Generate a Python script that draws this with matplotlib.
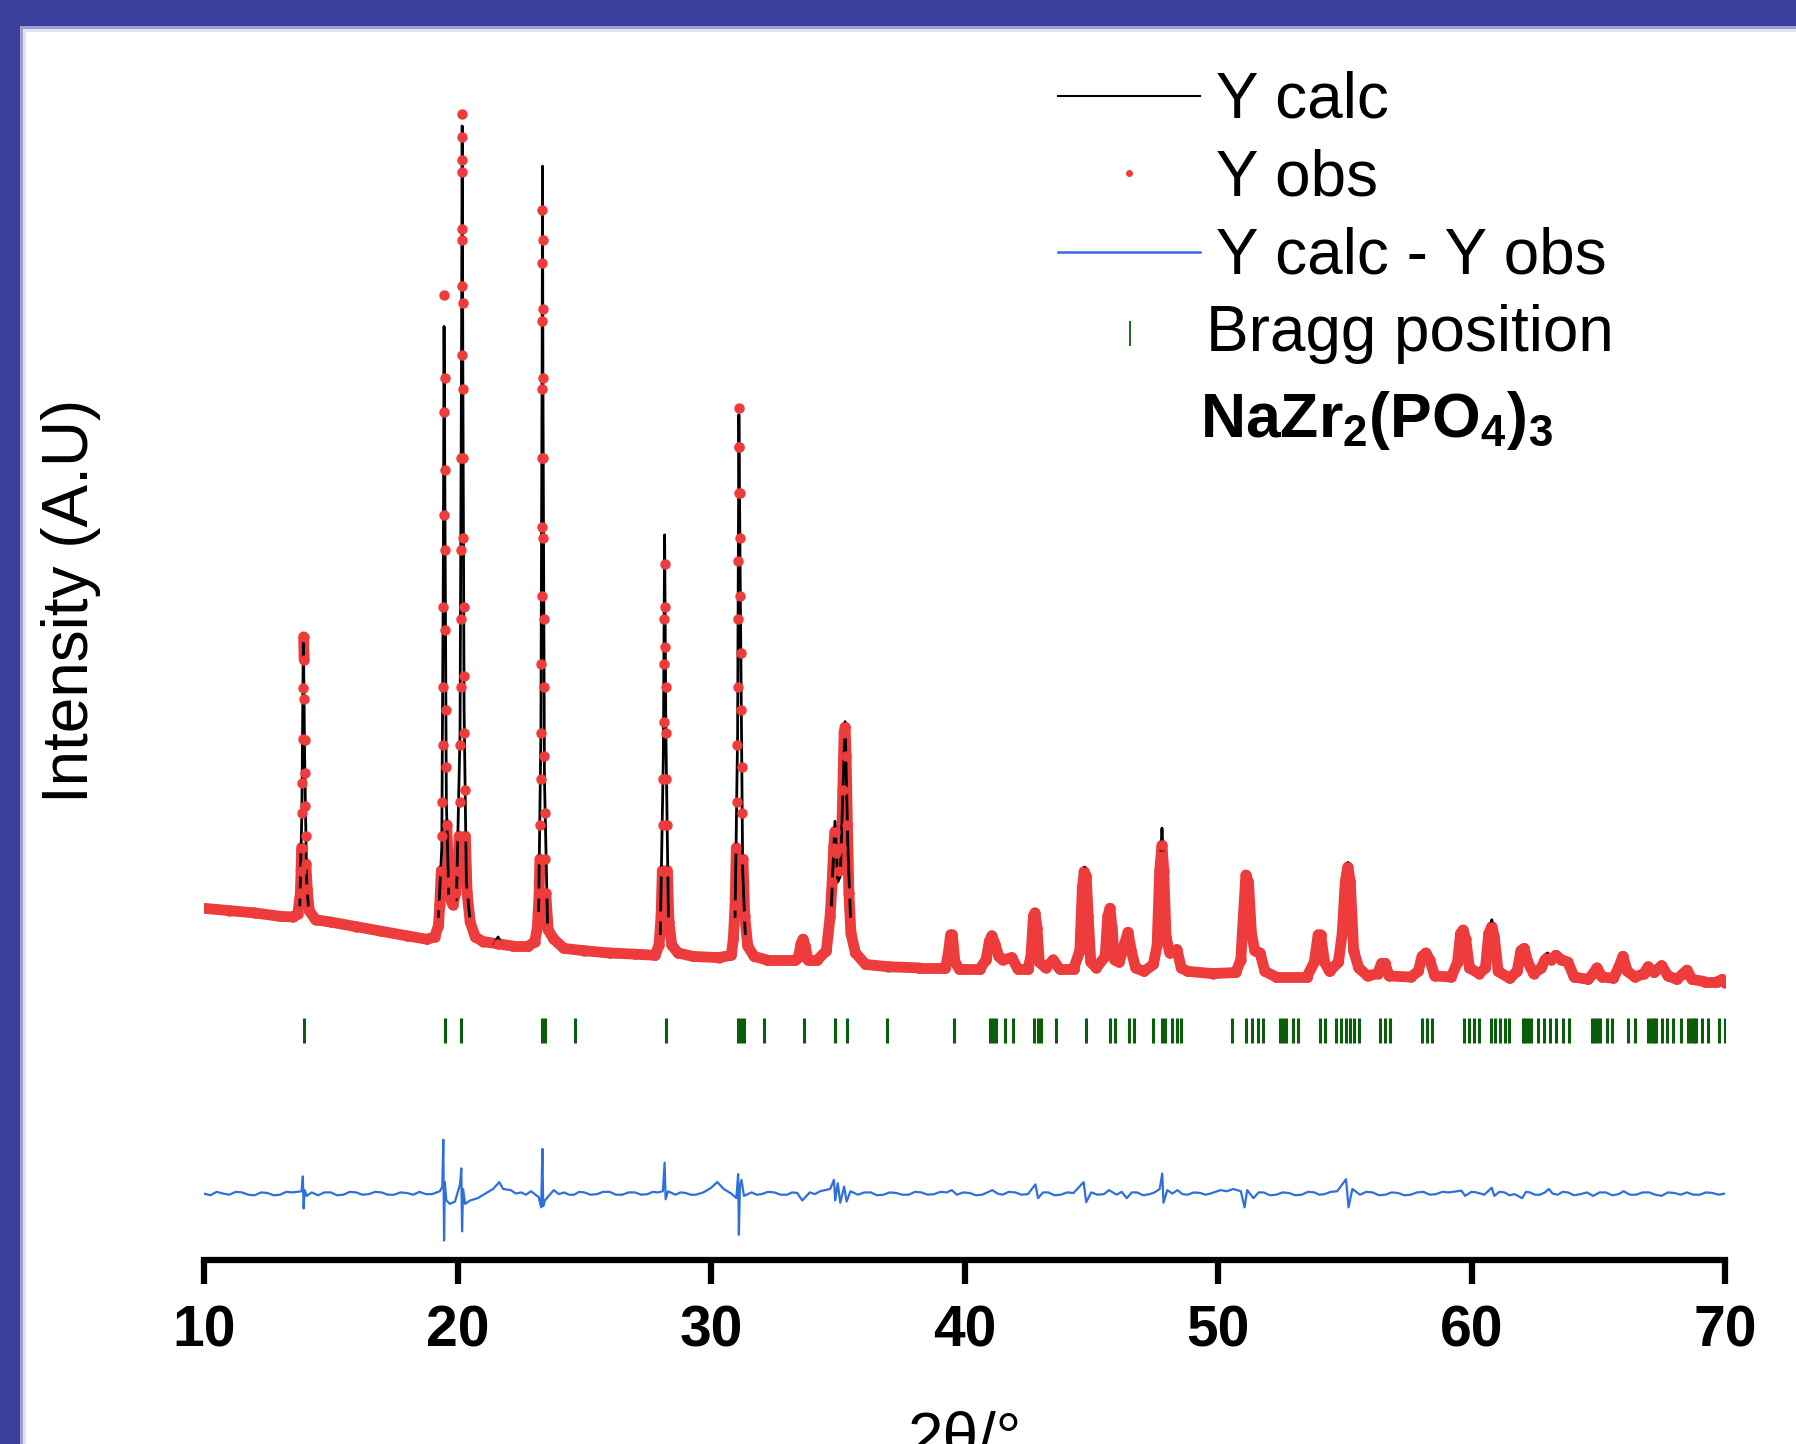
import numpy as np
import matplotlib
matplotlib.use('Agg')
import matplotlib.pyplot as plt
from matplotlib.collections import LineCollection
from matplotlib.lines import Line2D
from matplotlib.patches import Rectangle

plt.rcParams['font.family'] = ['Liberation Sans', 'DejaVu Sans']
plt.rcParams['mathtext.fontset'] = 'custom'
plt.rcParams['mathtext.rm'] = 'Liberation Sans'
plt.rcParams['mathtext.bf'] = 'Liberation Sans:bold'

# ------------------------------
# Data (2theta in degrees, intensity in counts)
# ------------------------------
obs_pts = [
    (10.0, 970), (11.0, 950), (12.0, 930), (13.0, 900), (13.5, 895),
    # 13.9
    (13.7, 920), (13.80, 1100), (13.83, 1300), (13.85, 1500), (13.865, 1800), (13.88, 2060),
    (13.895, 2450), (13.91, 2890), (13.93, 3340), (13.95, 3140), (13.96, 2800), (13.97, 2440),
    (13.98, 2150), (13.99, 1860), (14.005, 1600), (14.02, 1360), (14.07, 1140), (14.15, 950), (14.4, 870),
    (15.0, 850), (16.0, 810), (17.0, 770), (18.0, 730), (18.8, 700), (19.1, 720), (19.25, 820),
    # 19.5
    (19.30, 1000), (19.36, 1300), (19.38, 1600), (19.40, 1900), (19.415, 2400), (19.43, 2900),
    (19.44, 3600), (19.45, 4400), (19.46, 5300), (19.47, 6320), (19.49, 5600), (19.50, 4800),
    (19.51, 4100), (19.525, 3400), (19.54, 2700), (19.56, 2200), (19.58, 1700), (19.64, 1200),
    (19.72, 1050), (19.82, 1000),
    # 20.2
    (19.92, 1100), (20.02, 1300), (20.06, 1600), (20.08, 1900), (20.10, 2400), (20.12, 2900),
    (20.13, 3500), (20.14, 4100), (20.15, 4900), (20.16, 5800), (20.165, 6400), (20.17, 6900),
    (20.175, 7500), (20.18, 7900), (20.185, 7700), (20.19, 7400), (20.195, 6800), (20.20, 6250),
    (20.21, 5500), (20.22, 4900), (20.23, 4200), (20.24, 3600), (20.255, 3000), (20.27, 2500),
    (20.29, 2000), (20.31, 1600), (20.38, 1100), (20.50, 850), (20.70, 720),
    (21.0, 680), (21.6, 660), (22.2, 640), (22.8, 640), (23.05, 680),
    # 23.4
    (23.15, 800), (23.22, 1100), (23.25, 1400), (23.27, 1700), (23.285, 2100), (23.30, 2500),
    (23.31, 3100), (23.32, 3700), (23.328, 4300), (23.335, 4900), (23.34, 5500), (23.345, 6100),
    (23.348, 6600), (23.35, 7070), (23.36, 6800), (23.368, 6200), (23.375, 5600), (23.382, 4900),
    (23.39, 4200), (23.40, 3500), (23.41, 2900), (23.425, 2300), (23.44, 1800), (23.46, 1400),
    (23.48, 1100), (23.58, 780), (23.8, 700),
    (24.2, 620), (25.0, 600), (26.0, 580), (27.0, 570), (27.8, 560),
    # 28.2
    (27.95, 650), (28.03, 900), (28.08, 1300), (28.10, 1700), (28.12, 2100), (28.135, 2600),
    (28.15, 3100), (28.16, 3500), (28.17, 3980), (28.19, 3600), (28.20, 3250), (28.21, 2900),
    (28.225, 2500), (28.24, 2100), (28.26, 1700), (28.28, 1300), (28.34, 850), (28.45, 650), (28.7, 580),
    (29.3, 550), (30.3, 540), (30.8, 560),
    # 31.1
    (30.88, 700), (30.95, 1000), (31.00, 1500), (31.02, 1900), (31.04, 2400), (31.055, 2900),
    (31.07, 3500), (31.08, 4000), (31.09, 4600), (31.095, 5000), (31.10, 5340), (31.12, 5000),
    (31.13, 4600), (31.14, 4200), (31.155, 3700), (31.17, 3200), (31.19, 2700), (31.21, 2200),
    (31.235, 1800), (31.26, 1400), (31.33, 900), (31.45, 640),
    (31.7, 550), (32.2, 520), (33.3, 520),
    (33.45, 540), (33.55, 660), (33.63, 700), (33.72, 640), (33.82, 520), (34.2, 520), (34.55, 600),
    (34.70, 900), (34.78, 1200), (34.84, 1500), (34.89, 1640), (34.95, 1450), (35.05, 1300), (35.14, 1500),
    (35.20, 2000), (35.25, 2500), (35.29, 2550), (35.33, 2300), (35.38, 1700), (35.44, 1100), (35.52, 750),
    (35.7, 580), (36.1, 480), (37.0, 460), (38.2, 450), (39.25, 450),
    (39.38, 600), (39.45, 740), (39.52, 740), (39.62, 500), (39.8, 440), (40.6, 440),
    (40.85, 520), (40.98, 680), (41.08, 730), (41.2, 660), (41.35, 550), (41.5, 520), (41.87, 540),
    (42.1, 440), (42.5, 440),
    (42.62, 550), (42.72, 900), (42.78, 930), (42.86, 800), (42.95, 500), (43.2, 450), (43.5, 520),
    (43.75, 440), (44.3, 440),
    (44.55, 600), (44.65, 1150), (44.72, 1290), (44.80, 1250), (44.88, 900), (44.98, 500), (45.2, 450),
    (45.55, 550), (45.65, 900), (45.74, 970), (45.82, 800), (45.92, 520), (46.1, 500),
    (46.3, 650), (46.45, 760), (46.58, 600), (46.75, 450), (47.08, 420),
    (47.45, 480), (47.6, 650), (47.7, 1300), (47.79, 1520), (47.86, 1300), (47.95, 720), (48.1, 580),
    (48.38, 610), (48.55, 450), (48.8, 420),
    (49.8, 400), (50.7, 410), (50.9, 520), (51.0, 900), (51.1, 1260), (51.2, 1200), (51.32, 750),
    (51.45, 600), (51.66, 580), (51.85, 420), (52.3, 370),
    (53.5, 370), (53.8, 500), (53.95, 740), (54.05, 740), (54.2, 500), (54.4, 420), (54.75, 500),
    (54.9, 750), (55.02, 1200), (55.12, 1330), (55.22, 1200), (55.35, 600), (55.55, 450), (55.9, 380),
    (56.3, 400), (56.45, 490), (56.58, 490), (56.75, 380), (57.6, 370),
    (57.9, 420), (58.05, 550), (58.2, 580), (58.35, 520), (58.55, 380), (59.2, 370),
    (59.45, 500), (59.57, 750), (59.67, 780), (59.77, 700), (59.92, 450), (60.3, 400),
    (60.55, 450), (60.68, 750), (60.8, 810), (60.9, 720), (61.05, 420), (61.5, 360),
    (61.8, 420), (61.95, 600), (62.08, 620), (62.22, 500), (62.45, 400),
    (62.75, 450), (62.9, 520), (63.0, 540), (63.15, 520), (63.33, 560), (63.55, 520), (63.8, 500),
    (64.05, 370), (64.6, 350),
    (64.8, 400), (64.95, 450), (65.15, 370), (65.6, 360),
    (65.8, 450), (65.97, 550), (66.15, 420), (66.45, 370),
    (66.8, 400), (66.97, 460), (67.2, 410), (67.5, 470), (67.75, 380), (68.1, 350),
    (68.35, 400), (68.5, 430), (68.7, 350), (69.2, 330), (69.7, 330), (69.9, 350), (70.0, 320),
]

# calculated profile, only where it is not hidden under the observed points
calc_segments = [
    [(13.78, 1000), (13.86, 1800), (13.92, 3350), (13.97, 2300), (14.05, 1200), (14.12, 980)],
    [(19.25, 900), (19.38, 1500), (19.44, 3900), (19.47, 6050), (19.50, 4700), (19.56, 1900),
     (19.66, 1050), (19.80, 980), (19.96, 1050), (20.10, 2500), (20.16, 5900), (20.185, 7800),
     (20.21, 5700), (20.26, 2700), (20.35, 1200), (20.5, 850)],
    [(21.45, 660), (21.6, 720), (21.75, 660)],
    [(23.2, 950), (23.29, 2500), (23.34, 5900), (23.352, 7450), (23.37, 5600), (23.43, 2100), (23.55, 850)],
    [(28.0, 750), (28.12, 2300), (28.17, 4230), (28.22, 2500), (28.32, 900)],
    [(30.95, 900), (31.05, 2500), (31.10, 5280), (31.15, 3900), (31.25, 1300), (31.35, 750)],
    [(34.75, 1000), (34.89, 1730), (35.0, 1200), (35.1, 1250), (35.29, 2600), (35.4, 1500), (35.5, 900)],
    [(42.74, 900), (42.78, 960), (42.82, 880)],
    [(44.70, 1250), (44.74, 1330), (44.78, 1260)],
    [(47.75, 1480), (47.79, 1670), (47.83, 1480)],
    [(55.09, 1300), (55.13, 1370), (55.17, 1300)],
    [(60.76, 800), (60.80, 870), (60.84, 800)],
    [(62.97, 540), (63.0, 580), (63.03, 540)],
    [(63.30, 560), (63.33, 580), (63.36, 560)],
]

# Y calc - Y obs
diff_pts = [
    (10.0, 0), (10.25, -15), (10.5, 15), (10.75, 0), (11.0, -10), (11.25, 15), (11.5, 10),
    (11.75, -10), (12.0, -15), (12.25, 10), (12.5, 5), (12.75, -15), (13.0, -10), (13.25, 15),
    (13.5, 10), (13.85, 20), (13.9, 150), (13.93, -130), (13.97, 30), (14.05, -20), (14.25, 10),
    (14.5, -15), (14.75, 10), (15.0, 10), (15.25, -15), (15.5, -10), (15.75, 15), (16.0, 10),
    (16.25, -10), (16.5, -5), (16.75, 15), (17.0, 10), (17.25, -10), (17.5, -10), (17.75, 10),
    (18.0, 5), (18.25, -10), (18.5, 15), (18.75, -5), (19.0, -5), (19.3, 20), (19.4, 60),
    (19.44, 470), (19.47, -410), (19.50, 100), (19.56, -60), (19.7, -90), (19.9, -70), (20.1, 80),
    (20.15, 220), (20.18, -330), (20.22, 40), (20.3, -90), (20.5, -60), (20.8, -40), (21.1, 0),
    (21.4, 40), (21.65, 100), (21.8, 40), (22.1, 30), (22.3, 0), (22.5, 10), (22.7, -10), (22.9, 20),
    (23.2, -30), (23.3, -120), (23.35, 390), (23.38, -110), (23.45, -60), (23.6, -20), (23.8, 30),
    (24.0, -5), (24.2, 10), (24.4, -10), (24.6, -10), (24.8, 15), (25.0, 10), (25.25, -10), (25.5, -5),
    (25.75, 15), (26.0, 15), (26.25, -10), (26.5, -10), (26.75, 10), (27.0, 10), (27.25, -10),
    (27.5, -5), (27.7, 15), (27.9, 10), (28.1, 20), (28.17, 270), (28.21, -50), (28.3, 20),
    (28.6, -10), (28.8, 10), (29.0, 5), (29.2, -10), (29.4, -10), (29.7, 10), (30.0, 50), (30.25, 100),
    (30.5, 40), (30.8, 0), (31.0, -40), (31.07, 170), (31.1, -360), (31.14, 60), (31.2, 120),
    (31.3, -20), (31.6, 10), (31.8, -10), (32.0, -5), (32.25, 15), (32.5, 10), (32.75, -10),
    (33.0, -10), (33.2, 10), (33.4, 5), (33.6, -60), (33.9, 10), (34.1, -5), (34.3, 20), (34.7, 40),
    (34.85, 120), (34.9, -60), (35.0, 90), (35.1, -80), (35.25, 60), (35.35, -70), (35.5, 20),
    (35.8, -10), (36.05, 10), (36.3, 10), (36.55, -15), (36.8, -10), (37.05, 10), (37.3, 5),
    (37.55, -10), (37.8, -10), (38.05, 15), (38.3, 10), (38.55, -10), (38.8, -5), (39.05, 15),
    (39.3, 10), (39.5, 30), (39.7, -10), (39.95, 10), (40.2, 5), (40.45, -15), (40.7, -10),
    (40.9, 10), (41.1, 30), (41.3, 0), (41.5, -10), (41.75, 15), (42.0, 10), (42.25, -10), (42.5, -5),
    (42.8, 80), (42.9, -40), (43.1, 10), (43.3, 10), (43.55, -15), (43.8, -10), (44.05, 10), (44.3, 5),
    (44.7, 100), (44.8, -75), (45.0, 10), (45.25, -10), (45.5, -5), (45.7, 30), (46.0, -10),
    (46.2, 15), (46.4, -40), (46.6, 10), (46.8, 10), (47.05, -15), (47.3, -5), (47.5, 10), (47.7, 40),
    (47.8, 175), (47.85, -80), (48.0, 30), (48.2, 0), (48.4, 30), (48.6, -5), (48.8, -10),
    (49.05, 10), (49.3, 5), (49.5, -10), (49.7, 0), (50.1, 30), (50.35, 20), (50.6, 40), (50.9, 20),
    (51.05, -120), (51.15, 30), (51.4, -40), (51.6, 10), (51.8, 10), (52.05, -15), (52.3, -10),
    (52.55, 10), (52.8, 5), (53.05, -15), (53.3, -10), (53.55, 15), (53.8, 10), (54.0, -10),
    (54.2, -5), (54.45, 15), (54.7, 20), (55.05, 125), (55.15, -120), (55.3, 40), (55.6, -10),
    (55.85, 15), (56.1, 10), (56.35, -15), (56.6, -10), (56.85, 10), (57.1, 5), (57.35, -15),
    (57.6, -10), (57.85, 10), (58.1, 15), (58.35, -10), (58.6, -5), (58.85, 15), (59.1, 10),
    (59.6, 25), (59.75, -20), (60.0, 15), (60.2, 10), (60.5, -10), (60.8, 50), (60.9, -20),
    (61.1, 15), (61.3, 10), (61.5, -15), (61.7, -5), (62.0, -40), (62.15, 15), (62.3, 10),
    (62.5, -10), (62.7, -10), (62.9, 10), (63.05, 40), (63.2, 0), (63.4, -10), (63.6, 15), (63.8, 10),
    (64.05, -15), (64.3, -5), (64.55, 10), (64.8, -20), (65.05, 10), (65.3, 10), (65.55, -15),
    (65.8, -5), (66.0, 20), (66.25, -10), (66.5, -10), (66.75, 10), (67.0, 10), (67.25, -10),
    (67.5, -20), (67.75, 10), (68.0, 5), (68.25, -10), (68.5, 10), (68.75, -10), (69.0, -10),
    (69.25, 10), (69.5, 5), (69.75, -10), (70.0, 0),
]

bragg_pos = [
    13.95, 19.49, 20.13, 23.33, 23.45, 24.62, 28.22, 31.08, 31.2, 31.32, 32.09, 33.68, 34.89, 35.35,
    36.94, 39.57, 41.0, 41.12, 41.25, 41.58, 41.93, 42.76, 42.9, 43.03, 43.59, 44.8, 45.73, 45.93,
    46.49, 46.69, 47.43, 47.8, 47.9, 48.17, 48.37, 48.56, 50.55, 51.1, 51.33, 51.56, 51.76, 52.45,
    52.58, 52.68, 52.95, 53.14, 54.02, 54.22, 54.64, 54.84, 55.03, 55.19, 55.38, 55.56, 56.4, 56.6,
    56.79, 58.06, 58.25, 58.45, 59.72, 59.91, 60.11, 60.3, 60.75, 60.94, 61.14, 61.33, 61.49, 62.02,
    62.12, 62.22, 62.33, 62.64, 62.87, 63.11, 63.34, 63.61, 63.84, 64.75, 64.85, 64.95, 65.06, 65.33,
    65.56, 66.19, 66.44, 66.98, 67.08, 67.18, 67.28, 67.52, 67.71, 67.95, 68.26, 68.53, 68.64, 68.76,
    68.87, 69.11, 69.31, 69.76, 69.99,
]

x_ticks = [10, 20, 30, 40, 50, 60, 70]

# vertical offsets used for the stacked plot
DIFF_OFFSET = -1520
BRAGG_LEVEL = -90

RED = '#ee3b3b'
BLUE = '#2f6fdc'
GREEN = '#0a5e0a'
FRAME = '#3b3f9e'

# ------------------------------
# Figure and frame
# ------------------------------
W, H = 1796, 1444
fig = plt.figure(figsize=(W / 100, H / 100), dpi=100, facecolor=FRAME)


def fx(px):
    return px / W


def fy(py):
    return 1 - py / H


# white slide panel with a soft edge (drawn below the axes)
for x0, y0, col in [(20, 26, '#9c9fd0'), (23, 29, '#e3e4f3'), (26, 32, 'white')]:
    fig.patches.append(Rectangle((fx(x0), 0), fx(1807 - x0) - fx(0), fy(y0),
                                 transform=fig.transFigure, facecolor=col,
                                 edgecolor='none', zorder=-5))

ax = fig.add_axes([fx(204), fy(1260), fx(1725) - fx(204), fy(28) - fy(1260)])
ax.patch.set_visible(False)

# ------------------------------
# Observed pattern: thick band where the points are dense, dots everywhere
# ------------------------------
tth_obs = np.array([p[0] for p in obs_pts])
int_obs = np.array([p[1] for p in obs_pts], dtype=float)

segs = np.stack([np.column_stack([tth_obs[:-1], int_obs[:-1]]),
                 np.column_stack([tth_obs[1:], int_obs[1:]])], axis=1)
slope = np.abs(np.diff(int_obs) / np.diff(tth_obs))
widths = np.where(slope < 14000, 7.8, 0.0)
band = LineCollection(segs, linewidths=widths, colors=RED, capstyle='round',
                      joinstyle='round', zorder=2)
ax.add_collection(band)

# calculated profile
for seg in calc_segments:
    ax.plot([p[0] for p in seg], [p[1] for p in seg], color='black', lw=2.0, zorder=3)

ax.plot(tth_obs, int_obs, ls='none', marker='o', ms=6.5, color=RED, mec=RED, zorder=4)

# difference curve
ax.plot([p[0] for p in diff_pts], [DIFF_OFFSET + p[1] for p in diff_pts],
        color=BLUE, lw=1.6, zorder=3)

# Bragg reflections
ax.plot(bragg_pos, [BRAGG_LEVEL] * len(bragg_pos), ls='none', marker='|', ms=18,
        mew=2.2, color=GREEN, zorder=3)

# ------------------------------
# Axes styling
# ------------------------------
ax.set_xlim(10, 70)
ax.set_ylim(-2100, 8655)
for side in ['left', 'right', 'top']:
    ax.spines[side].set_visible(False)
ax.spines['bottom'].set_linewidth(4.5)
ax.set_yticks([])
ax.set_xticks(x_ticks)
ax.tick_params(axis='x', direction='out', length=17, width=4.5, pad=15, labelsize=41)
for lbl in ax.get_xticklabels():
    lbl.set_fontweight('bold')

fig.text(fx(965), fy(1458), '2θ/°', ha='center', va='baseline', fontsize=46)
fig.text(fx(71), fy(601), 'Intensity (A.U)', rotation=90, ha='center', va='center', fontsize=46)

# ------------------------------
# Legend (drawn by hand, as in the original)
# ------------------------------
fig.add_artist(Line2D([fx(1058), fx(1200)], [fy(96), fy(96)], color='black', lw=1.5))
fig.text(fx(1216), fy(117), 'Y calc', fontsize=46, va='baseline')
fig.add_artist(Line2D([fx(1129)], [fy(173)], ls='none', marker='o', ms=4, color=RED))
fig.text(fx(1216), fy(195), 'Y obs', fontsize=46, va='baseline')
fig.add_artist(Line2D([fx(1058), fx(1200)], [fy(252), fy(252)], color=BLUE, lw=1.8))
fig.text(fx(1216), fy(273), 'Y calc - Y obs', fontsize=46, va='baseline')
fig.add_artist(Line2D([fx(1130)], [fy(333)], ls='none', marker='|', ms=18, mew=1.3, color=GREEN))
fig.text(fx(1206), fy(351), 'Bragg position', fontsize=46, va='baseline')
fig.text(fx(1200), fy(437), r'$\mathbf{NaZr_2(PO_4)_3}$', fontsize=45, va='baseline')

fig.savefig('out.png', dpi=100, facecolor=FRAME)
